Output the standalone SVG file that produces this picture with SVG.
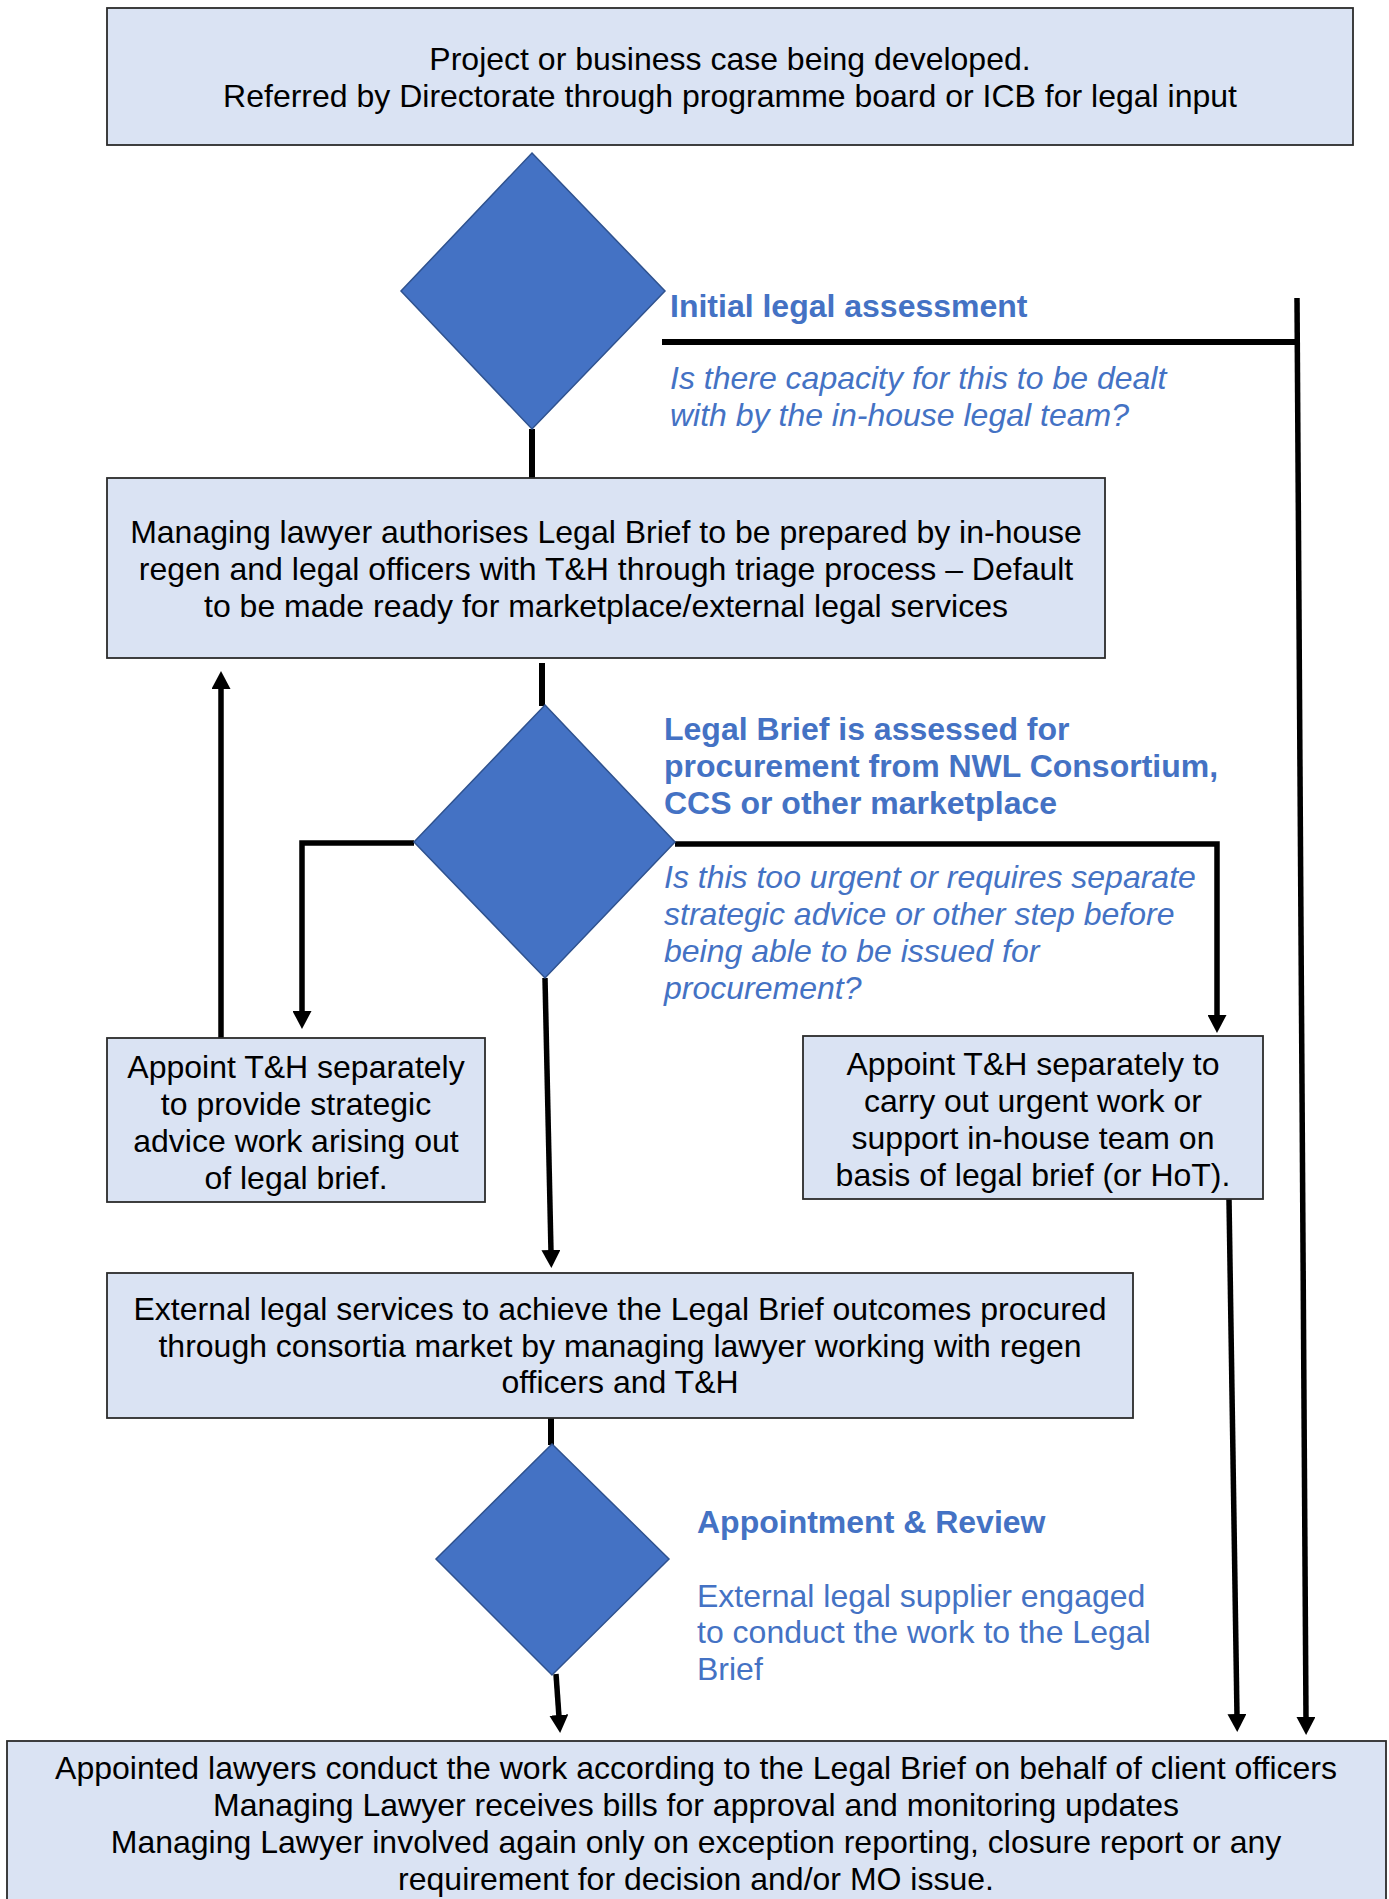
<svg xmlns="http://www.w3.org/2000/svg" width="1389" height="1899" viewBox="0 0 1389 1899">
<style>
.box{fill:#DAE3F3;stroke:#2b2b2b;stroke-width:1.8}
.dia{fill:#4472C4;stroke:#2F528F;stroke-width:1.5}
.t{font-family:"Liberation Sans",Arial,sans-serif;font-size:32px;fill:#000;text-anchor:middle}
.b{font-family:"Liberation Sans",Arial,sans-serif;font-size:32px;fill:#4472C4;font-weight:bold}
.i{font-family:"Liberation Sans",Arial,sans-serif;font-size:32px;fill:#4472C4;font-style:italic}
.r{font-family:"Liberation Sans",Arial,sans-serif;font-size:32px;fill:#4472C4}
.c{fill:none;stroke:#000;stroke-width:6;stroke-linejoin:miter}
.ca{fill:none;stroke:#000;stroke-width:5.5;marker-end:url(#ah)}
</style>
<defs>
<marker id="ah" viewBox="0 0 18 19" refX="2" refY="9.5" markerUnits="userSpaceOnUse" markerWidth="18" markerHeight="19" orient="auto">
<path d="M0,0 L18,9.5 L0,19 Z" fill="#000"/>
</marker>
</defs>
<g id="connectors">
<line class="c" x1="532" y1="429" x2="532" y2="478"/>
<line class="c" x1="662" y1="342" x2="1298" y2="342"/>
<line class="ca" x1="1297" y1="298" x2="1306" y2="1719"/>
<line class="c" x1="542" y1="663" x2="542" y2="706"/>
<polyline class="ca" points="414,843 302,843 302,1013"/>
<polyline class="ca" points="675,844 1217,844 1217,1017"/>
<line class="ca" x1="545" y1="978" x2="551" y2="1252"/>
<line class="ca" x1="221" y1="1038" x2="221" y2="687"/>
<line class="c" x1="551" y1="1418" x2="551" y2="1445"/>
<line class="ca" x1="556" y1="1674" x2="559" y2="1717"/>
<line class="ca" x1="1229" y1="1199" x2="1237" y2="1716"/>
</g>
<g id="n1">
<rect class="box" x="107" y="8" width="1246" height="137"/>
<text class="t" x="730" y="70">Project or business case being developed.</text>
<text class="t" x="730" y="107">Referred by Directorate through programme board or ICB for legal input</text>
</g>
<g id="d1">
<polygon class="dia" points="532,153 665,291 532,429 401,291"/>
<text class="b" x="670" y="317">Initial legal assessment</text>
<text class="i" x="670" y="389">Is there capacity for this to be dealt</text>
<text class="i" x="670" y="426">with by the in-house legal team?</text>
</g>
<g id="n2">
<rect class="box" x="107" y="478" width="998" height="180"/>
<text class="t" x="606" y="543">Managing lawyer authorises Legal Brief to be prepared by in-house</text>
<text class="t" x="606" y="580">regen and legal officers with T&amp;H through triage process – Default</text>
<text class="t" x="606" y="617">to be made ready for marketplace/external legal services</text>
</g>
<g id="d2">
<polygon class="dia" points="545,705 675,842 545,978 414,842"/>
<text class="b" x="664" y="740">Legal Brief is assessed for</text>
<text class="b" x="664" y="777">procurement from NWL Consortium,</text>
<text class="b" x="664" y="814">CCS or other marketplace</text>
<text class="i" x="664" y="888">Is this too urgent or requires separate</text>
<text class="i" x="664" y="925">strategic advice or other step before</text>
<text class="i" x="664" y="962">being able to be issued for</text>
<text class="i" x="664" y="999">procurement?</text>
</g>
<g id="n3">
<rect class="box" x="107" y="1038" width="378" height="164"/>
<text class="t" x="296" y="1078">Appoint T&amp;H separately</text>
<text class="t" x="296" y="1115">to provide strategic</text>
<text class="t" x="296" y="1152">advice work arising out</text>
<text class="t" x="296" y="1189">of legal brief.</text>
</g>
<g id="n4">
<rect class="box" x="803" y="1036" width="460" height="163"/>
<text class="t" x="1033" y="1075">Appoint T&amp;H separately to</text>
<text class="t" x="1033" y="1112">carry out urgent work or</text>
<text class="t" x="1033" y="1149">support in-house team on</text>
<text class="t" x="1033" y="1186">basis of legal brief (or HoT).</text>
</g>
<g id="n5">
<rect class="box" x="107" y="1273" width="1026" height="145"/>
<text class="t" x="620" y="1320">External legal services to achieve the Legal Brief outcomes procured</text>
<text class="t" x="620" y="1357">through consortia market by managing lawyer working with regen</text>
<text class="t" x="620" y="1393">officers and T&amp;H</text>
</g>
<g id="d3">
<polygon class="dia" points="552,1444 669,1559 552,1675 436,1559"/>
<text class="b" x="697" y="1533">Appointment &amp; Review</text>
<text class="r" x="697" y="1607">External legal supplier engaged</text>
<text class="r" x="697" y="1643">to conduct the work to the Legal</text>
<text class="r" x="697" y="1680">Brief</text>
</g>
<g id="n6">
<rect class="box" x="7" y="1741" width="1379" height="170"/>
<text class="t" x="696" y="1779">Appointed lawyers conduct the work according to the Legal Brief on behalf of client officers</text>
<text class="t" x="696" y="1816">Managing Lawyer receives bills for approval and monitoring updates</text>
<text class="t" x="696" y="1853">Managing Lawyer involved again only on exception reporting, closure report or any</text>
<text class="t" x="696" y="1890">requirement for decision and/or MO issue.</text>
</g>
</svg>
